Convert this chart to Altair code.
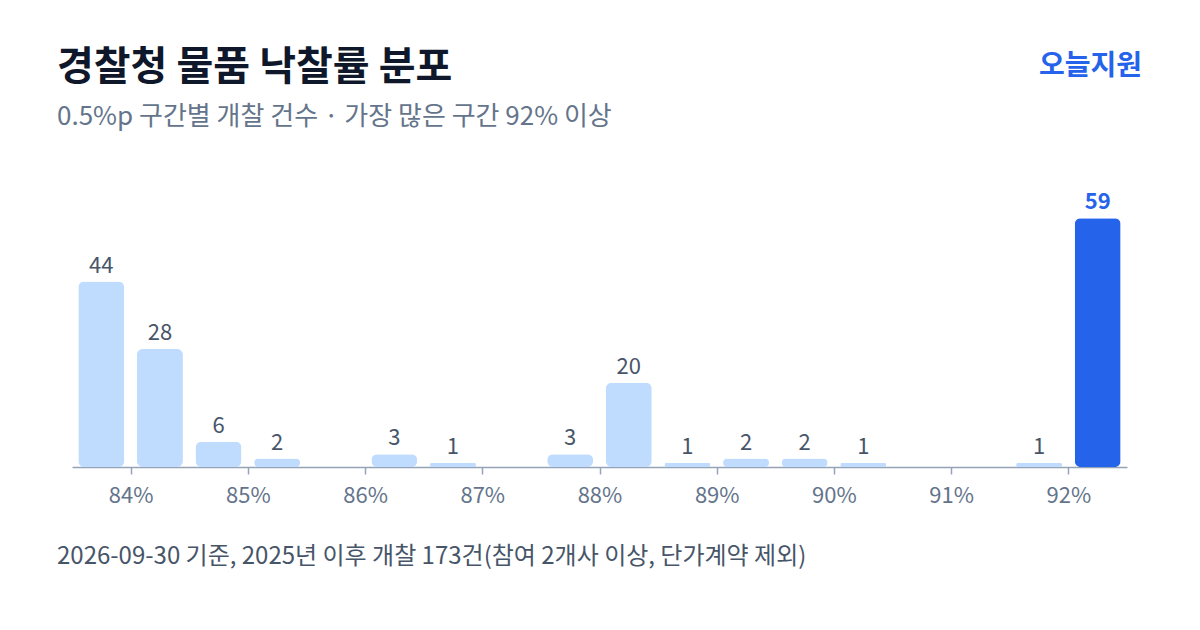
import altair as alt
import pandas as pd

# bin lower bounds (%) and counts
bin_start = [83.5, 84.0, 84.5, 85.0, 85.5, 86.0, 86.5, 87.0, 87.5,
             88.0, 88.5, 89.0, 89.5, 90.0, 90.5, 91.0, 91.5, 92.0]
counts = [44, 28, 6, 2, 0, 3, 1, 0, 3, 20, 1, 2, 2, 1, 0, 0, 1, 59]
tick_values = [84, 85, 86, 87, 88, 89, 90, 91, 92]
highlight_bin = 92.0

title_text = "경찰청 물품 낙찰률 분포"
subtitle_text = "0.5%p 구간별 개찰 건수 · 가장 많은 구간 92% 이상"
brand_text = "오늘지원"
footer_text = "2026-09-30 기준, 2025년 이후 개찰 173건(참여 2개사 이상, 단가계약 제외)"

FONT = "Noto Sans CJK KR"
W, H = 1055, 274

df = pd.DataFrame({"start": bin_start, "count": counts})
df["center"] = df["start"] + 0.25
df["hl"] = df["start"] == highlight_bin
df_bars = df[df["count"] > 0]

x = alt.X("center:Q", scale=alt.Scale(domain=[83.5, 92.5], nice=False, zero=False, padding=0),
          axis=alt.Axis(values=tick_values, labelExpr="datum.value + '%'", title=None,
                        grid=False, domainColor="#94A3B8", domainWidth=1.5,
                        tickColor="#94A3B8", tickSize=7, tickWidth=1.5,
                        labelColor="#64748B", labelFont=FONT, labelFontSize=22,
                        labelPadding=11))
y = alt.Y("count:Q", scale=alt.Scale(domain=[0, 65], nice=False), axis=None)

bars = alt.Chart(df_bars).mark_bar(width=46, cornerRadius=6).encode(
    x=x, y=y,
    color=alt.condition("datum.hl", alt.value("#2563EB"), alt.value("#BFDBFE")),
)

labels = alt.Chart(df_bars[~df_bars["hl"]]).mark_text(
    baseline="alphabetic", dy=-9, font=FONT, fontSize=22, color="#475569"
).encode(x="center:Q", y="count:Q", text="count:Q")

labels_hl = alt.Chart(df_bars[df_bars["hl"]]).mark_text(
    baseline="alphabetic", dy=-9, font=FONT, fontSize=22, fontWeight="bold", color="#2563EB"
).encode(x="center:Q", y="count:Q", text="count:Q")

def txt(t, xv, yv, size, color, weight="normal", align="left"):
    return alt.Chart(pd.DataFrame({"t": [t]})).mark_text(
        align=align, baseline="middle", font=FONT, fontSize=size,
        fontWeight=weight, color=color
    ).encode(x=alt.value(xv), y=alt.value(yv), text="t:N")

title = txt(title_text, -15, -125, 40, "#0F172A", "bold")
subtitle = txt(subtitle_text, -15, -76, 26, "#64748B")
brand = txt(brand_text, 1070, -126, 28, "#2563EB", "bold", "right")
footer = txt(footer_text, -15, 364, 24, "#475569")

chart = alt.layer(bars, labels, labels_hl, title, subtitle, brand, footer).properties(
    width=W, height=H,
    autosize=alt.AutoSizeParams(type="none"),
    padding={"left": 64, "top": 185, "right": 65, "bottom": 150},
    background="white",
).configure_view(stroke=None)

chart.save("out.html", embed_options={"renderer": "svg", "actions": False})
